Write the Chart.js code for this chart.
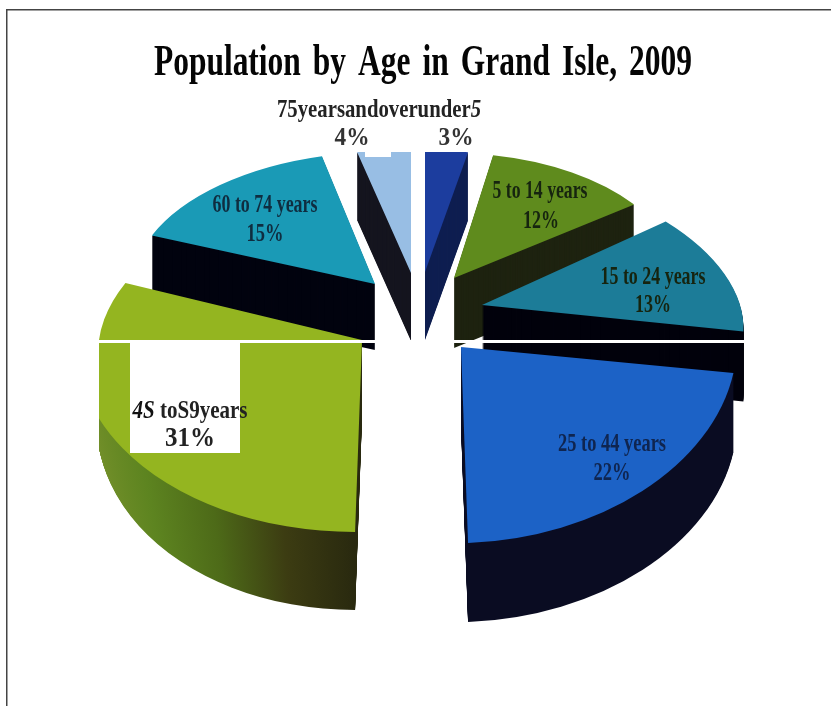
<!DOCTYPE html>
<html>
<head>
<meta charset="utf-8">
<title>Population by Age in Grand Isle, 2009</title>
<script src="https://cdn.jsdelivr.net/npm/chart.js@4"></script>
<style>
    html, body { margin: 0; padding: 0; background: #fff; overflow: hidden; }
    #wrap { position: relative; width: 831px; height: 706px; }
</style>
</head>
<body>
<div id="wrap"><canvas id="pieChart" width="831" height="706"></canvas></div>
<script>
// Chart values, as printed on the picture
const titleText = 'Population by Age in Grand Isle, 2009';
const categories = ['under 5', '5 to 14 years', '15 to 24 years', '25 to 44 years', '45 to 59 years', '60 to 74 years', '75 years and over'];
const shares = [3, 12, 13, 22, 31, 15, 4];

// Look of the slices
const topColors = ['#1c3d9e', '#5f8b1d', '#1c7c98', '#1c62c6', '#94b520', '#1a9ab6', '#98bee4'];
const sideColors = [
    ['#0f1f50'],
    ['#1e2310'],
    ['#02020c'],
    ['#141d3e', '#0a0c22', '#0a0c22'],
    ['#74902a', '#5d8420', '#4d6a18', '#3c3c12', '#29290f'],
    ['#02030f'],
    ['#15151f']
];
const drawOrder = [6, 0, 1, 5, 2, 3, 4];   // back to front
const shiftX = [7, 36, 64, 43, -56, -43, -7];   // explode, from the pie centre
const shiftY = [-81, -75, -48, -6, -13, -69, -80];
const radiusX = [230, 225, 258, 276, 285, 243, 217];
const radiusY = [122, 125, 142, 196, 192, 132, 125];
const floorRadiusX = [230, 225, 258, 276, 265, 243, 217];   // bottom of the body
const skewX = [0, 0.025, 0.3, 0.036, -0.036, -0.058, 0];
const skewY = [0, 0, 0, -0.04, 0, 0, 0];
const depth = [68, 70, 70, 79, 78, 66, 68];

// The scan is broken along the white band, the big slice is flatter above it
const seamSlice = 4;
const seamY = 340;
const seamLeft = 99;
const upperRadiusX = 263;
const upperRadiusY = 155;
const upperSkewX = -0.14;

// Draws text squeezed to a given width, the scan has very narrow type
function fitRuns(ctx, runs, centerX, baseline, width, wordGap) {
    ctx.save();
    ctx.textAlign = 'left';
    ctx.textBaseline = 'alphabetic';
    ctx.wordSpacing = (wordGap || 0) + 'px';
    let natural = 0;
    runs.forEach(run => {
        ctx.font = run.font;
        natural += ctx.measureText(run.text).width;
    });
    ctx.translate(centerX - width / 2, baseline);
    ctx.scale(width / natural, 1);
    let x = 0;
    runs.forEach(run => {
        ctx.font = run.font;
        ctx.fillStyle = run.color;
        ctx.fillText(run.text, x, 0);
        x += ctx.measureText(run.text).width;
    });
    ctx.restore();
}

function sideFill(ctx, stops, props) {
    if (stops.length === 1) return stops[0];
    const grad = ctx.createLinearGradient(props.x - props.outerRadius, 0, props.x, 0);
    stops.forEach((color, k) => grad.addColorStop(k / (stops.length - 1), color));
    return grad;
}

// Flat slices from the library, stacked downward to make the 3D body
const exploded3d = {
    id: 'exploded3d',
    beforeDatasetsDraw(chart) {
        const ctx = chart.ctx;
        const arcs = chart.getDatasetMeta(0).data;
        drawOrder.forEach(i => {
            const arc = arcs[i];
            const props = arc.getProps(['x', 'y', 'outerRadius'], true);
            const base = arc.options;
            const side = sideFill(ctx, sideColors[i], props);
            const layer = (color, drop, rx, ry, slant) => {
                ctx.save();
                ctx.translate(props.x + shiftX[i], props.y + shiftY[i] + drop);
                ctx.transform(1, skewY[i], slant, 1, 0, 0);
                ctx.scale(rx / props.outerRadius, ry / props.outerRadius);
                ctx.translate(-props.x, -props.y);
                arc.options = Object.assign({}, base, { backgroundColor: color, borderWidth: 0 });
                arc.draw(ctx);
                ctx.restore();
            };

            ctx.save();
            if (i === seamSlice) {
                ctx.beginPath();
                ctx.rect(seamLeft, seamY, chart.width, chart.height);
                ctx.clip();
            }
            for (let d = depth[i]; d > 0; d--) {
                const rx = radiusX[i] + (floorRadiusX[i] - radiusX[i]) * d / depth[i];
                layer(side, d, rx, radiusY[i], skewX[i]);
            }
            layer(topColors[i], 0, radiusX[i], radiusY[i], skewX[i]);
            ctx.restore();

            if (i === seamSlice) {
                ctx.save();
                ctx.beginPath();
                ctx.rect(0, 0, chart.width, seamY);
                ctx.clip();
                layer(topColors[i], 0, upperRadiusX, upperRadiusY, upperSkewX);
                ctx.restore();
            }
            arc.options = base;
        });
        return false;
    },
    afterDraw(chart) {
        const ctx = chart.ctx;
        const serifBold = size => `bold ${size}px "Liberation Serif"`;
        const serifItalic = size => `italic bold ${size}px "Liberation Serif"`;

        // scan damage: flat cut on the two thin slices, white band, pasted box
        ctx.fillStyle = '#ffffff';
        ctx.fillRect(345, 120, 130, 32);
        ctx.fillRect(365, 152, 26, 5);
        ctx.fillRect(seamLeft, seamY, 647, 3);
        ctx.fillRect(130, 343, 110, 110);

        // frame
        ctx.fillStyle = '#444444';
        ctx.fillRect(6, 9, 825, 1.5);
        ctx.fillRect(6, 9, 1.5, 697);

        const dark = '#16240f';
        fitRuns(ctx, [{ text: titleText, font: serifBold(45), color: '#050505' }], 423, 75, 538, 6);
        fitRuns(ctx, [
            { text: '75yearsandoverunder', font: serifBold(25), color: '#222222' },
            { text: '5', font: serifItalic(25), color: '#222222' }
        ], 379, 117, 204);
        fitRuns(ctx, [{ text: shares[6] + '%', font: serifBold(25), color: '#333333' }], 352, 145, 35);
        fitRuns(ctx, [{ text: shares[0] + '%', font: serifBold(25), color: '#333333' }], 456, 145, 35);
        fitRuns(ctx, [{ text: categories[1], font: serifBold(25), color: dark }], 540, 198, 95);
        fitRuns(ctx, [{ text: shares[1] + '%', font: serifBold(25), color: dark }], 541, 228, 36);
        fitRuns(ctx, [{ text: categories[2], font: serifBold(25), color: dark }], 653, 284, 105);
        fitRuns(ctx, [{ text: shares[2] + '%', font: serifBold(25), color: dark }], 653, 312, 36);
        fitRuns(ctx, [{ text: categories[3], font: serifBold(25), color: '#0f2550' }], 612, 451, 108);
        fitRuns(ctx, [{ text: shares[3] + '%', font: serifBold(25), color: '#0f2550' }], 612, 480, 37);
        fitRuns(ctx, [{ text: categories[5], font: serifBold(25), color: '#0f2d40' }], 265, 212, 105);
        fitRuns(ctx, [{ text: shares[5] + '%', font: serifBold(25), color: '#0f2d40' }], 265, 241, 37);
        // the scan misread this label, it is kept as printed
        fitRuns(ctx, [
            { text: '4S', font: serifItalic(25), color: '#111111' },
            { text: ' toS9years', font: serifBold(25), color: '#222222' }
        ], 190, 418, 115);
        fitRuns(ctx, [{ text: shares[4] + '%', font: serifBold(27), color: '#222222' }], 190, 446, 50);
    }
};

new Chart(document.getElementById('pieChart'), {
    type: 'pie',
    data: {
        labels: categories,
        datasets: [{
            data: shares,
            backgroundColor: topColors,
            borderWidth: 0
        }]
    },
    options: {
        responsive: false,
        animation: false,
        layout: { padding: { left: 5, right: 0, top: 0, bottom: 0 } },
        plugins: {
            legend: { display: false },
            tooltip: { enabled: false }
        }
    },
    plugins: [exploded3d]
});
</script>
</body>
</html>
